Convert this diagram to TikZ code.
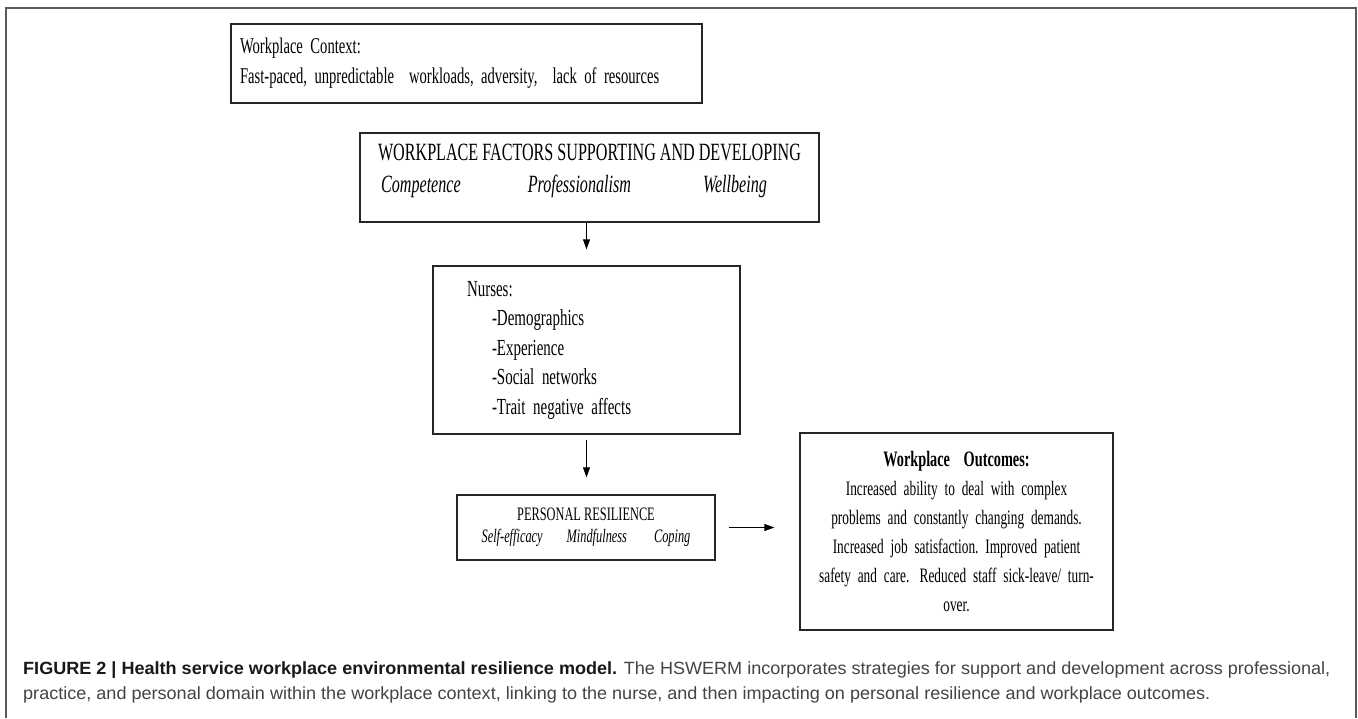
\documentclass[tikz,border=0pt]{standalone}
\usepackage{fontspec}
\setmainfont{Liberation Serif}
\newfontfamily\narrowfont[FakeStretch=0.65]{Liberation Serif}
\newfontfamily\capfont[FakeStretch=1.02]{Liberation Sans}
\usetikzlibrary{arrows.meta, positioning}
\definecolor{framegray}{HTML}{5A5A5A}
\definecolor{captext}{HTML}{444444}

\begin{document}
\begin{tikzpicture}[
        x=1pt, y=-1pt, >={Triangle[length=10pt,width=7pt]},
        box/.style={draw=black!85, line width=1.3pt, inner sep=0pt},
        link/.style={->, line width=0.9pt}
        ]
        \useasboundingbox (0,0) rectangle (1358,718);
        \draw[framegray, line width=1.6pt] (6,718) -- (6,8) -- (1356,8) -- (1356,718);

        \node[box, minimum width=471pt, minimum height=79pt, text width=453pt, align=left,
              font=\narrowfont\fontsize{22.5}{30}\selectfont] (context) at (466.5,63.5)
              {Workplace Context:\\Fast-paced, unpredictable\ \ workloads, adversity,\ \ lack of resources};
        \node[box, minimum width=459pt, minimum height=89pt, align=center, text depth=18pt,
              font=\narrowfont\fontsize{24.8}{32}\selectfont] (factors) at (589.5,177.5)
              {WORKPLACE FACTORS SUPPORTING AND DEVELOPING\\
               \textit{Competence}\hspace{67pt}\textit{Professionalism}\hspace{72pt}\textit{Wellbeing}\hspace*{31pt}};
        \node[box, minimum width=307pt, minimum height=168pt, text width=239pt, align=left,
              font=\narrowfont\fontsize{23}{29.5}\selectfont] (nurses) at (586.5,350)
              {Nurses:\\\hspace*{25pt}-Demographics\\\hspace*{25pt}-Experience\\
               \hspace*{25pt}-Social networks\\\hspace*{25pt}-Trait negative\ affects};
        \node[box, minimum width=258pt, minimum height=65pt, align=center,
              font=\narrowfont\fontsize{19}{22}\selectfont] (resil) at (586,527.5)
              {PERSONAL RESILIENCE\\
               \textit{Self-efficacy}\hspace{24pt}\textit{Mindfulness}\hspace{27pt}\textit{Coping}};
        \node[box, minimum width=313pt, minimum height=197pt, text width=311pt, align=center,
              font=\narrowfont\fontsize{20.5}{29}\selectfont] (outcomes) at (956.5,531.5)
              {\textbf{\fontsize{22}{29}\selectfont Workplace\ \ Outcomes:}\\
               Increased ability\ to deal with complex\\
               problems\ and constantly\ changing\ demands.\\
               Increased job satisfaction.\ Improved patient\\
               safety and care. Reduced staff\ sick-leave/\ turn-\\
               over.};

        \draw[link, shorten >=16pt] (factors.south -| nurses.north) -- (nurses.north);
        \draw[link, shorten <=5pt, shorten >=17pt] (nurses.south) -- (nurses.south |- resil.north);
        \draw[link, shorten <=13pt, shorten >=25pt] (resil.east) -- (resil.east -| outcomes.west);

        \node[anchor=north west, inner sep=0pt, align=left, text=captext,
              font=\capfont\fontsize{17.7}{25}\selectfont] (caption) at (23,661.5)
              {\textcolor{black!90}{\textbf{FIGURE 2 | Health service workplace environmental resilience model.}} The HSWERM incorporates strategies for support and development across professional,\\
               practice, and personal domain within the workplace context, linking to the nurse, and then impacting on personal resilience and workplace outcomes.};
\end{tikzpicture}
\end{document}
